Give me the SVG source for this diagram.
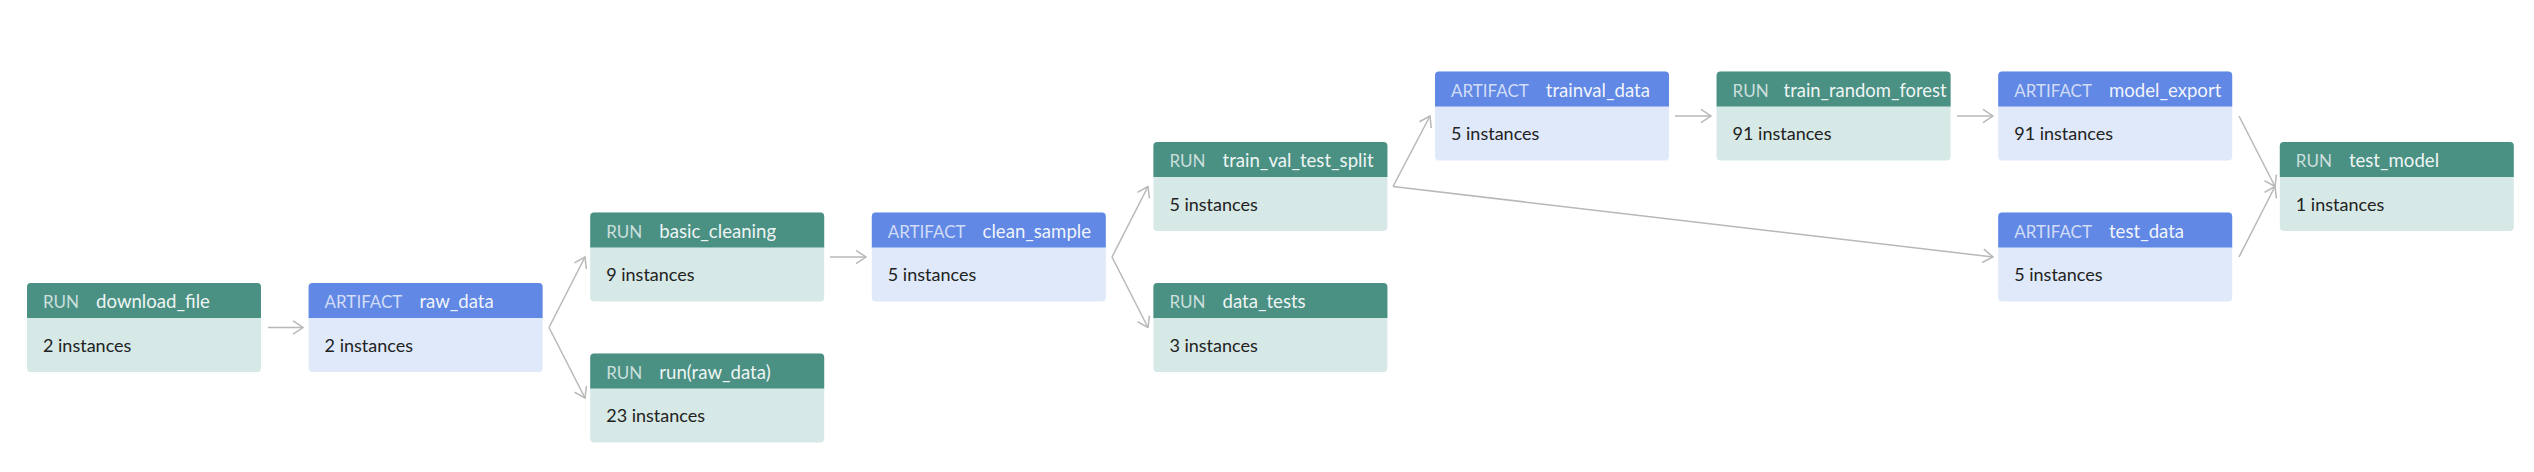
<svg xmlns="http://www.w3.org/2000/svg" width="2534" height="472" viewBox="0 0 2534 472">
<defs>
<style>
.run .hd{fill:#4a9184}
.run .bd{fill:#d6e9e6}
.art .hd{fill:#6088e4}
.art .bd{fill:#dfe9f9}
.lbl{font-family:Lato,"Liberation Sans",sans-serif;font-size:17px;fill:#ffffff;fill-opacity:0.72}
.nm{font-size:18.6px;fill-opacity:0.93}
.cnt{font-family:Lato,"Liberation Sans",sans-serif;font-size:18px;fill:#222222}
.edge{fill:none;stroke:#b8b8b8;stroke-width:1.5}
</style>
<marker id="ah" markerUnits="userSpaceOnUse" viewBox="0 0 12 16" refX="11" refY="8" markerWidth="12" markerHeight="16" orient="auto">
<path d="M1,1.3 L11,8 L1,14.7" fill="none" stroke="#b8b8b8" stroke-width="1.5"/>
</marker>
<clipPath id="clipHd"><rect x="0" y="0" width="234" height="35"/></clipPath>
</defs>
<rect width="2534" height="472" fill="#ffffff"/>

<g id="connectors">
<path class="edge" marker-end="url(#ah)" d="M268,327.5 L303,327.5"/>
<path class="edge" marker-end="url(#ah)" d="M549,327.5 L585,257"/>
<path class="edge" marker-end="url(#ah)" d="M549,327.5 L585,398"/>
<path class="edge" marker-end="url(#ah)" d="M830,257 L866,257"/>
<path class="edge" marker-end="url(#ah)" d="M1112,257 L1148,186.5"/>
<path class="edge" marker-end="url(#ah)" d="M1112,257 L1148,327.5"/>
<path class="edge" marker-end="url(#ah)" d="M1393,186.5 L1430,116"/>
<path class="edge" marker-end="url(#ah)" d="M1393,186.5 L1993,257"/>
<path class="edge" marker-end="url(#ah)" d="M1675,116 L1711,116"/>
<path class="edge" marker-end="url(#ah)" d="M1957,116 L1993,116"/>
<path class="edge" marker-end="url(#ah)" d="M2239,116 L2275,186.5"/>
<path class="edge" marker-end="url(#ah)" d="M2239,257 L2275,186.5"/>
</g>

<g id="node-download_file" class="run" transform="translate(27,283)">
<rect class="bd" width="234" height="89" rx="4"/>
<path class="hd" d="M0,35 V4 A4,4 0 0 1 4,0 H230 A4,4 0 0 1 234,4 V35 Z"/>
<text class="lbl" x="16" y="25" clip-path="url(#clipHd)">RUN<tspan class="nm" dx="17">download_file</tspan></text>
<text class="cnt" x="16" y="68.5">2 instances</text>
</g>

<g id="node-raw_data" class="art" transform="translate(308.6,283)">
<rect class="bd" width="234" height="89" rx="4"/>
<path class="hd" d="M0,35 V4 A4,4 0 0 1 4,0 H230 A4,4 0 0 1 234,4 V35 Z"/>
<text class="lbl" x="16" y="25" clip-path="url(#clipHd)">ARTIFACT<tspan class="nm" dx="17">raw_data</tspan></text>
<text class="cnt" x="16" y="68.5">2 instances</text>
</g>

<g id="node-basic_cleaning" class="run" transform="translate(590.2,212.5)">
<rect class="bd" width="234" height="89" rx="4"/>
<path class="hd" d="M0,35 V4 A4,4 0 0 1 4,0 H230 A4,4 0 0 1 234,4 V35 Z"/>
<text class="lbl" x="16" y="25" clip-path="url(#clipHd)">RUN<tspan class="nm" dx="17">basic_cleaning</tspan></text>
<text class="cnt" x="16" y="68.5">9 instances</text>
</g>

<g id="node-run_raw_data" class="run" transform="translate(590.2,353.5)">
<rect class="bd" width="234" height="89" rx="4"/>
<path class="hd" d="M0,35 V4 A4,4 0 0 1 4,0 H230 A4,4 0 0 1 234,4 V35 Z"/>
<text class="lbl" x="16" y="25" clip-path="url(#clipHd)">RUN<tspan class="nm" dx="17">run(raw_data)</tspan></text>
<text class="cnt" x="16" y="68.5">23 instances</text>
</g>

<g id="node-clean_sample" class="art" transform="translate(871.8,212.5)">
<rect class="bd" width="234" height="89" rx="4"/>
<path class="hd" d="M0,35 V4 A4,4 0 0 1 4,0 H230 A4,4 0 0 1 234,4 V35 Z"/>
<text class="lbl" x="16" y="25" clip-path="url(#clipHd)">ARTIFACT<tspan class="nm" dx="17">clean_sample</tspan></text>
<text class="cnt" x="16" y="68.5">5 instances</text>
</g>

<g id="node-train_val_test_split" class="run" transform="translate(1153.4,142)">
<rect class="bd" width="234" height="89" rx="4"/>
<path class="hd" d="M0,35 V4 A4,4 0 0 1 4,0 H230 A4,4 0 0 1 234,4 V35 Z"/>
<text class="lbl" x="16" y="25" clip-path="url(#clipHd)">RUN<tspan class="nm" dx="17">train_val_test_split</tspan></text>
<text class="cnt" x="16" y="68.5">5 instances</text>
</g>

<g id="node-data_tests" class="run" transform="translate(1153.4,283)">
<rect class="bd" width="234" height="89" rx="4"/>
<path class="hd" d="M0,35 V4 A4,4 0 0 1 4,0 H230 A4,4 0 0 1 234,4 V35 Z"/>
<text class="lbl" x="16" y="25" clip-path="url(#clipHd)">RUN<tspan class="nm" dx="17">data_tests</tspan></text>
<text class="cnt" x="16" y="68.5">3 instances</text>
</g>

<g id="node-trainval_data" class="art" transform="translate(1435,71.5)">
<rect class="bd" width="234" height="89" rx="4"/>
<path class="hd" d="M0,35 V4 A4,4 0 0 1 4,0 H230 A4,4 0 0 1 234,4 V35 Z"/>
<text class="lbl" x="16" y="25" clip-path="url(#clipHd)">ARTIFACT<tspan class="nm" dx="17">trainval_data</tspan></text>
<text class="cnt" x="16" y="68.5">5 instances</text>
</g>

<g id="node-train_random_forest" class="run" transform="translate(1716.6,71.5)">
<rect class="bd" width="234" height="89" rx="4"/>
<path class="hd" d="M0,35 V4 A4,4 0 0 1 4,0 H230 A4,4 0 0 1 234,4 V35 Z"/>
<text class="lbl" x="16" y="25">RUN</text>
<text class="lbl nm" x="67" y="25" textLength="163" lengthAdjust="spacingAndGlyphs">train_random_forest</text>
<text class="cnt" x="16" y="68.5">91 instances</text>
</g>

<g id="node-model_export" class="art" transform="translate(1998.2,71.5)">
<rect class="bd" width="234" height="89" rx="4"/>
<path class="hd" d="M0,35 V4 A4,4 0 0 1 4,0 H230 A4,4 0 0 1 234,4 V35 Z"/>
<text class="lbl" x="16" y="25" clip-path="url(#clipHd)">ARTIFACT<tspan class="nm" dx="17">model_export</tspan></text>
<text class="cnt" x="16" y="68.5">91 instances</text>
</g>

<g id="node-test_data" class="art" transform="translate(1998.2,212.5)">
<rect class="bd" width="234" height="89" rx="4"/>
<path class="hd" d="M0,35 V4 A4,4 0 0 1 4,0 H230 A4,4 0 0 1 234,4 V35 Z"/>
<text class="lbl" x="16" y="25" clip-path="url(#clipHd)">ARTIFACT<tspan class="nm" dx="17">test_data</tspan></text>
<text class="cnt" x="16" y="68.5">5 instances</text>
</g>

<g id="node-test_model" class="run" transform="translate(2279.8,142)">
<rect class="bd" width="234" height="89" rx="4"/>
<path class="hd" d="M0,35 V4 A4,4 0 0 1 4,0 H230 A4,4 0 0 1 234,4 V35 Z"/>
<text class="lbl" x="16" y="25" clip-path="url(#clipHd)">RUN<tspan class="nm" dx="17">test_model</tspan></text>
<text class="cnt" x="16" y="68.5">1 instances</text>
</g>
</svg>
